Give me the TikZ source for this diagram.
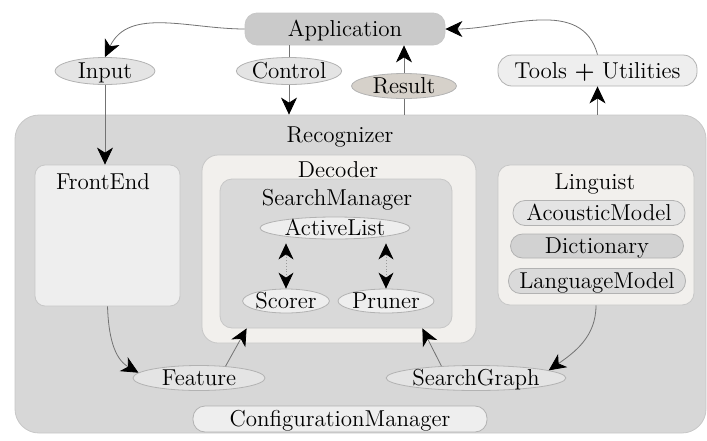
\documentclass[tikz,border=0pt]{standalone}
\usetikzlibrary{arrows.meta,shapes.geometric}

\definecolor{recfill}{RGB}{215,215,215}
\definecolor{appfill}{RGB}{202,202,202}
\definecolor{resfill}{RGB}{214,209,202}
\definecolor{ovalfill}{RGB}{228,228,228}
\definecolor{palefill}{RGB}{238,238,238}
\definecolor{decfill}{RGB}{242,240,237}
\definecolor{smfill}{RGB}{217,217,217}
\definecolor{dictfill}{RGB}{210,210,210}
\definecolor{lmfill}{RGB}{218,218,218}

\begin{document}
\begin{tikzpicture}[x=0.5pt, y=-0.5pt,
        font=\fontsize{11.5}{13}\selectfont,
        box/.style={draw=black!22, line width=0.4pt, inner sep=0pt},
        oval/.style={ellipse, draw=black!30, line width=0.4pt, fill=ovalfill,
            inner xsep=0pt, inner ysep=-3pt, text height=7.5pt, text depth=0pt},
        pill/.style={rectangle, rounded corners=6pt, draw=black!30, line width=0.4pt,
            inner xsep=0pt, inner ysep=-3pt, text height=7.5pt, text depth=0pt},
        lbl/.style={inner sep=0pt, text height=7.5pt, text depth=0pt},
        line/.style={draw=black!55, line width=0.4pt},
        link/.style={line, -{Stealth[length=8.5pt,width=8pt,inset=2.5pt,black]}},
        dlink/.style={draw=black!40, line width=0.4pt, densely dotted,
            {Stealth[length=8pt,width=7.5pt,inset=2.5pt,black]}-{Stealth[length=8pt,width=7.5pt,inset=2.5pt,black]}}]

    \useasboundingbox (0,0) rectangle (707,440);

    % Application and its neighbours
    \node[box, rounded corners=6pt, fill=appfill, minimum width=100pt, minimum height=16pt,
        text height=7.5pt, text depth=0pt] (app) at (345,29) {Application};
    \node[oval, minimum width=50pt, minimum height=13.5pt] (input) at (105,71) {Input};
    \node[oval, minimum width=49pt, minimum height=13.5pt] (ctl) at (289,71) {Control};
    \node[oval, fill=resfill, minimum width=52.5pt, minimum height=12.5pt] (res) at (404,86) {Result};
    \node[pill, rounded corners=7pt, fill=palefill, minimum width=99.5pt, minimum height=15.5pt]
        (tools) at (597.5,70.5) {Tools \textbf{+} Utilities};

    % Recognizer
    \node[box, rounded corners=12pt, fill=recfill, minimum width=345.5pt, minimum height=159pt]
        (rec) at (360.5,274) {};
    \node[lbl] (rec-t) at (340,135) {Recognizer};

    % FrontEnd
    \node[box, rounded corners=5pt, fill=palefill, minimum width=72.5pt, minimum height=70.5pt]
        (fe) at (107.5,235.5) {};
    \node[lbl] (fe-t) at (103,182) {FrontEnd};

    % Decoder with SearchManager inside
    \node[box, rounded corners=8pt, fill=decfill, minimum width=137pt, minimum height=94pt]
        (dec) at (339,249) {};
    \node[lbl] (dec-t) at (338,170) {Decoder};
    \node[box, rounded corners=6pt, fill=smfill, minimum width=116pt, minimum height=74.5pt]
        (sm) at (336,253.5) {};
    \node[lbl] (sm-t) at (337,198) {SearchManager};
    \node[oval, fill=palefill, minimum width=75pt, minimum height=11pt] (al) at (335,228) {ActiveList};
    \node[oval, fill=palefill, minimum width=42.5pt, minimum height=12pt] (scorer) at (286,301) {Scorer};
    \node[oval, fill=palefill, minimum width=43.5pt, minimum height=12pt] (pruner) at (386,301) {Pruner};

    % Linguist
    \node[box, rounded corners=6pt, fill=decfill, minimum width=98pt, minimum height=70pt]
        (ling) at (596,235) {};
    \node[lbl] (ling-t) at (595,182) {Linguist};
    \node[pill, fill=ovalfill, minimum width=86pt, minimum height=12.5pt] (am) at (599,213) {AcousticModel};
    \node[pill, fill=dictfill, minimum width=86.5pt, minimum height=12pt] (dict) at (597,246) {Dictionary};
    \node[pill, fill=lmfill, minimum width=88.5pt, minimum height=12.5pt] (lm) at (597,281) {LanguageModel};

    % bottom row
    \node[oval, minimum width=66pt, minimum height=12.5pt] (feat) at (199,378) {Feature};
    \node[oval, minimum width=84pt, minimum height=12.5pt] (sg) at (476,378) {SearchGraph};
    \node[pill, fill=palefill, minimum width=147pt, minimum height=13pt] (cfg) at (340,419) {ConfigurationManager};

    % connectors
    \draw[link] (app.west) to[out=180,in=65] (input.north);
    \draw[line] (ctl |- app.south) -- (ctl.north);
    \draw[link] (ctl.south) -- (ctl |- rec.north);
    \draw[line] (res |- rec.north) -- (res.south);
    \draw[link] (res.north) -- (res |- app.south);
    \draw[link] (tools |- rec.north) -- (tools.south);
    \draw[link] (tools.north) to[out=105,in=0] (app.east);
    \draw[link] (input.south) -- (input |- fe.north);
    \draw[link] (fe.south) to[out=-88,in=150] (feat.175);
    \draw[link] (feat.24) -- ([xshift=13.5pt]sm.south west);
    \draw[link] (ling.south) to[out=-90,in=35] (sg.6);
    \draw[link] (sg.161) -- ([xshift=-15pt]sm.south east);
    \draw[dlink] (scorer.north) -- ([yshift=-2pt]scorer.north |- al.south);
    \draw[dlink] (pruner.north) -- ([yshift=-2pt]pruner.north |- al.south);
\end{tikzpicture}
\end{document}
